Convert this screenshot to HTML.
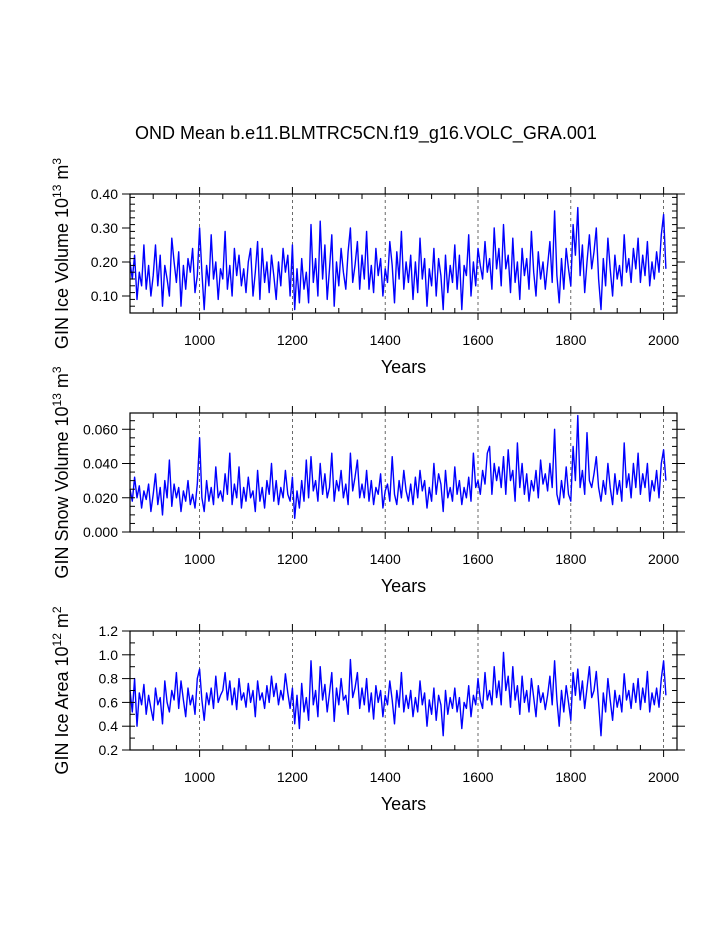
<!DOCTYPE html>
<html><head><meta charset="utf-8"><style>
body{margin:0;background:#fff}
svg{display:block;font-family:"Liberation Sans",Arial,sans-serif}
</style></head><body>
<svg id="chart" width="723" height="935" viewBox="0 0 723 935" xmlns="http://www.w3.org/2000/svg">
<text x="366" y="139" font-size="18" text-anchor="middle">OND Mean b.e11.BLMTRC5CN.f19_g16.VOLC_GRA.001</text>
</svg>
<script>
const xTicks=[1000,1200,1400,1600,1800,2000];
const startYear=850;
const stepYears=5;
const iceVolume=[0.20,0.15,0.22,0.09,0.17,0.13,0.25,0.12,0.19,0.10,0.16,0.25,0.13,0.22,0.07,0.19,0.15,0.10,0.27,0.20,
0.14,0.23,0.07,0.19,0.12,0.21,0.17,0.24,0.11,0.16,0.30,0.17,0.06,0.19,0.13,0.28,0.15,0.20,0.09,0.18,
0.15,0.29,0.12,0.19,0.10,0.24,0.16,0.22,0.13,0.18,0.11,0.20,0.24,0.10,0.17,0.26,0.09,0.24,0.14,0.20,
0.11,0.22,0.16,0.09,0.20,0.13,0.24,0.17,0.22,0.10,0.25,0.06,0.18,0.08,0.21,0.12,0.17,0.08,0.31,0.14,
0.21,0.10,0.32,0.15,0.25,0.09,0.18,0.28,0.07,0.20,0.13,0.24,0.17,0.12,0.23,0.30,0.14,0.19,0.26,0.12,
0.22,0.15,0.29,0.12,0.19,0.11,0.24,0.16,0.21,0.10,0.18,0.14,0.26,0.19,0.08,0.23,0.15,0.29,0.12,0.20,
0.14,0.22,0.09,0.20,0.11,0.27,0.15,0.21,0.07,0.18,0.13,0.24,0.10,0.21,0.16,0.06,0.22,0.11,0.19,0.14,
0.25,0.12,0.22,0.06,0.19,0.16,0.28,0.10,0.20,0.13,0.24,0.19,0.15,0.26,0.17,0.21,0.12,0.30,0.18,0.24,
0.13,0.31,0.18,0.22,0.11,0.27,0.14,0.20,0.09,0.24,0.16,0.21,0.12,0.29,0.17,0.10,0.23,0.15,0.20,0.12,
0.19,0.26,0.14,0.35,0.16,0.08,0.21,0.12,0.24,0.18,0.13,0.31,0.22,0.36,0.16,0.25,0.11,0.20,0.28,0.18,
0.23,0.30,0.15,0.06,0.21,0.13,0.27,0.18,0.10,0.22,0.15,0.19,0.13,0.28,0.17,0.21,0.14,0.24,0.18,0.27,
0.14,0.22,0.16,0.26,0.13,0.20,0.15,0.23,0.17,0.28,0.34,0.18];
const snowVolume=[.025,.018,.032,.020,.027,.014,.024,.019,.028,.012,.022,.034,.016,.026,.010,.030,.020,.042,.015,.028,
.020,.026,.012,.024,.018,.030,.016,.022,.014,.028,.055,.020,.012,.030,.018,.026,.016,.038,.020,.024,
.018,.034,.022,.046,.016,.028,.020,.038,.014,.026,.018,.032,.020,.024,.012,.036,.018,.026,.014,.030,
.022,.040,.018,.030,.016,.026,.020,.036,.022,.018,.032,.008,.024,.014,.030,.018,.042,.020,.044,.024,
.030,.018,.040,.022,.034,.020,.026,.046,.018,.030,.024,.036,.020,.028,.016,.046,.024,.032,.042,.020,
.028,.020,.036,.018,.030,.016,.026,.022,.034,.014,.024,.028,.018,.044,.022,.016,.030,.020,.036,.024,
.018,.028,.016,.032,.020,.036,.024,.030,.014,.026,.018,.040,.022,.034,.028,.012,.036,.020,.026,.018,
.038,.022,.030,.016,.026,.020,.032,.018,.046,.026,.030,.022,.036,.028,.046,.050,.022,.040,.030,.038,
.026,.044,.022,.048,.030,.036,.018,.052,.026,.040,.022,.034,.018,.030,.024,.036,.020,.042,.028,.034,
.024,.040,.026,.060,.022,.016,.030,.020,.038,.022,.018,.050,.030,.068,.026,.036,.022,.058,.030,.026,
.034,.044,.026,.018,.030,.022,.040,.026,.016,.034,.022,.030,.018,.052,.026,.034,.020,.040,.026,.046,
.022,.034,.026,.040,.018,.030,.024,.036,.020,.040,.048,.030];
const iceArea=[.70,.52,.80,.40,.68,.58,.75,.50,.66,.55,.45,.72,.58,.64,.42,.78,.60,.52,.70,.62,
.85,.55,.78,.62,.48,.72,.58,.66,.50,.80,.88,.62,.45,.68,.58,.72,.55,.82,.60,.66,
.70,.85,.62,.78,.58,.72,.54,.80,.62,.68,.56,.76,.60,.70,.48,.78,.62,.68,.55,.74,
.60,.82,.65,.76,.58,.70,.62,.84,.68,.55,.72,.42,.66,.38,.76,.52,.64,.45,.95,.58,
.70,.48,.90,.62,.75,.52,.68,.85,.44,.72,.58,.80,.62,.66,.50,.96,.64,.72,.85,.55,
.72,.58,.80,.52,.68,.46,.74,.60,.70,.48,.66,.58,.78,.62,.42,.70,.56,.85,.52,.66,
.55,.70,.48,.64,.52,.78,.58,.68,.40,.62,.50,.72,.45,.66,.58,.32,.70,.50,.64,.55,
.72,.52,.64,.38,.60,.55,.74,.48,.66,.58,.80,.62,.55,.85,.62,.70,.58,.90,.64,.78,
.58,1.02,.70,.82,.56,.90,.62,.74,.50,.82,.60,.70,.52,.80,.64,.48,.74,.60,.68,.54,
.66,.82,.58,.95,.62,.40,.70,.52,.74,.60,.45,.85,.66,.88,.62,.78,.55,.72,.90,.64,
.70,.86,.60,.32,.68,.52,.80,.62,.45,.70,.56,.66,.52,.84,.62,.70,.55,.76,.60,.80,
.54,.72,.60,.86,.52,.68,.58,.72,.56,.80,.95,.66];
const yTicks1=[0.10,0.20,0.30,0.40];
const yTickLabels1=["0.10","0.20","0.30","0.40"];
const yTicks2=[0,0.02,0.04,0.06];
const yTickLabels2=["0.000","0.020","0.040","0.060"];
const yTicks3=[0.2,0.4,0.6,0.8,1.0,1.2];
const yTickLabels3=["0.2","0.4","0.6","0.8","1.0","1.2"];

const NS="http://www.w3.org/2000/svg";
const svg=document.getElementById('chart');
function mk(tag,attrs,parent){const e=document.createElementNS(NS,tag);for(const k in attrs)e.setAttribute(k,attrs[k]);(parent||svg).appendChild(e);return e;}
const L=130,R=677,xMin=850,xMax=850+(677-130)/0.464;
const xs=v=>L+(v-xMin)*(R-L)/(xMax-xMin);

function panel(key,top,bottom,yMin,yMax,data,ticks,labels,minorStep,titleMain,sup1,sup2){
  const g=mk('g',{});
  
  
  const ys=v=>bottom-(v-yMin)*(bottom-top)/(yMax-yMin);
  xTicks.forEach(t=>{const l=mk('line',{x1:xs(t),x2:xs(t),y1:top,y2:bottom,stroke:'#444','stroke-width':0.8,'stroke-dasharray':'3,3'},g);
    
    });
  let d='';data.forEach((v,i)=>{d+=(i?'L':'M')+xs(startYear+i*stepYears).toFixed(1)+','+ys(v).toFixed(1);});
  const p=mk('path',{d:d,fill:'none',stroke:'#0000ff','stroke-width':1.4,'stroke-linejoin':'round'},g);
  
  
  const r=mk('rect',{x:L,y:top,width:R-L,height:bottom-top,fill:'none',stroke:'#000','stroke-width':1.2},g);
  
  
  for(let t=850;t<=2025;t+=50){
    const major=xTicks.includes(t);
    mk('line',{x1:xs(t),x2:xs(t),y1:top,y2:major?top-7:top+5,stroke:'#000','stroke-width':1},g);
    mk('line',{x1:xs(t),x2:xs(t),y1:bottom,y2:major?bottom+7:bottom-5,stroke:'#000','stroke-width':1},g);
  }
  xTicks.forEach(t=>{const tx=mk('text',{x:xs(t),y:bottom+32,'font-size':14,'text-anchor':'middle'},g);tx.textContent=t;
    
    });
  for(let v=yMin;v<=yMax+1e-9;v+=minorStep){
    mk('line',{x1:L,x2:L+5,y1:ys(v),y2:ys(v),stroke:'#000','stroke-width':1},g);
    mk('line',{x1:R,x2:R-5,y1:ys(v),y2:ys(v),stroke:'#000','stroke-width':1},g);
  }
  ticks.forEach((t,i)=>{
    mk('line',{x1:L-8,x2:L,y1:ys(t),y2:ys(t),stroke:'#000','stroke-width':1},g);
    mk('line',{x1:R+8,x2:R,y1:ys(t),y2:ys(t),stroke:'#000','stroke-width':1},g);
    const tx=mk('text',{x:L-12,y:ys(t)+5,'font-size':14,'text-anchor':'end'},g);tx.textContent=labels[i];
    
    
  });
  const xt=mk('text',{x:(L+R)/2,y:bottom+60,'font-size':18,'text-anchor':'middle'},g);xt.textContent='Years';
  
  
  const cy=(top+bottom)/2;
  const yt=mk('text',{transform:`translate(68,${cy}) rotate(-90)`,'font-size':18,'text-anchor':'middle'},g);
  
  
  const a=mk('tspan',{},yt);a.textContent=titleMain+' 10';
  const b=mk('tspan',{'font-size':12,dy:-7},yt);b.textContent=sup1;
  const c=mk('tspan',{dy:7},yt);c.textContent=' m';
  const e=mk('tspan',{'font-size':12,dy:-7},yt);e.textContent=sup2;
}
panel('ice-volume',194,313,0.05,0.40,iceVolume,yTicks1,yTickLabels1,0.02,'GIN Ice Volume','13','3');
panel('snow-volume',413,532,0,0.0695,snowVolume,yTicks2,yTickLabels2,0.005,'GIN Snow Volume','13','3');
panel('ice-area',631,750,0.2,1.2,iceArea,yTicks3,yTickLabels3,0.1,'GIN Ice Area','12','2');
</script>
</body></html>
